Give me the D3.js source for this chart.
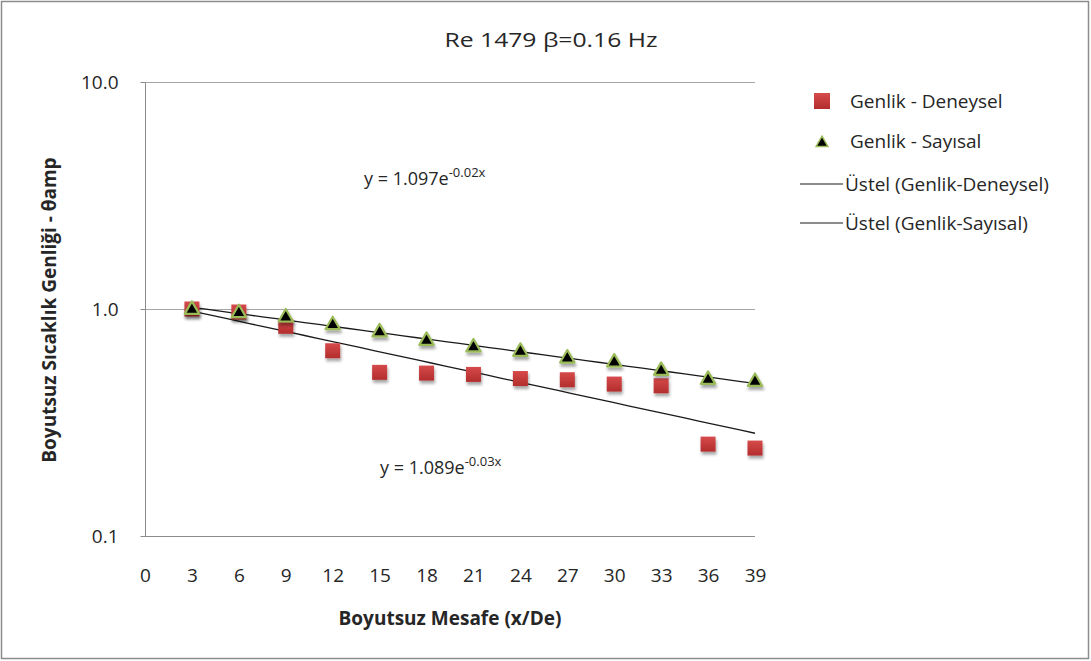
<!DOCTYPE html>
<html>
<head>
<meta charset="utf-8">
<script src="https://cdn.jsdelivr.net/npm/d3@7"></script>
<style>
  body { margin: 0; background: #fff; }
  text { font-family: "Open Sans", "Noto Sans", sans-serif; fill: #262626; }
</style>
</head>
<body>
<svg id="chart" width="1091" height="661"></svg>
<script>
// data
var distances = [3, 6, 9, 12, 15, 18, 21, 24, 27, 30, 33, 36, 39];
var deneysel = [1.00, 0.970, 0.839, 0.655, 0.526, 0.522, 0.515, 0.494, 0.488, 0.467, 0.459, 0.254, 0.244];
var sayisal = [0.993, 0.960, 0.919, 0.850, 0.790, 0.725, 0.678, 0.649, 0.606, 0.582, 0.535, 0.488, 0.478];
var xTicks = [0, 3, 6, 9, 12, 15, 18, 21, 24, 27, 30, 33, 36, 39];
var yTicks = [0.1, 1, 10];
var legendLabels = ['Genlik - Deneysel', 'Genlik - Sayısal', 'Üstel (Genlik-Deneysel)', 'Üstel (Genlik-Sayısal)'];
var eqSayisal = ['y = 1.097e', '-0.02x'];
var eqDeneysel = ['y = 1.089e', '-0.03x'];

var svg = d3.select('#chart');
var margin = {left: 145, top: 82, right: 336, bottom: 125};
var width = 1091 - margin.left - margin.right;
var height = 661 - margin.top - margin.bottom;

svg.append('rect')
  .attr('x', 1.5).attr('y', 1.5).attr('width', 1087).attr('height', 657)
  .attr('fill', '#fff').attr('stroke', '#8c8c8c').attr('stroke-width', 1.5);

var defs = svg.append('defs');
var shadow = defs.append('filter').attr('id', 'shadow')
  .attr('x', '-50%').attr('y', '-50%').attr('width', '200%').attr('height', '200%');
shadow.append('feDropShadow')
  .attr('dx', 1).attr('dy', 3).attr('stdDeviation', 1.6)
  .attr('flood-color', '#000').attr('flood-opacity', 0.35);
var grad = defs.append('linearGradient').attr('id', 'redgrad')
  .attr('x1', 0).attr('y1', 0).attr('x2', 0).attr('y2', 1);
grad.append('stop').attr('offset', '0%').attr('stop-color', '#d64a4a');
grad.append('stop').attr('offset', '100%').attr('stop-color', '#b32d2d');

var xScale = d3.scaleLinear().domain([0, 39]).range([0, width]);
var yScale = d3.scaleLog().domain([0.1, 10]).range([height, 0]);

var g = svg.append('g')
  .attr('transform', 'translate(' + margin.left + ',' + margin.top + ')');

// gridlines
g.selectAll('.grid').data([1, 10]).enter().append('line')
  .attr('class', 'grid')
  .attr('x1', 0).attr('x2', width)
  .attr('y1', function(d) { return yScale(d) + 0.5; })
  .attr('y2', function(d) { return yScale(d) + 0.5; })
  .attr('stroke', '#a6a6a6').attr('stroke-width', 1);

// axes
var yAxis = d3.axisLeft(yScale).tickValues(yTicks).tickSize(5).tickPadding(22)
  .tickFormat(d3.format('.1f'));
var yAxisGroup = g.append('g').attr('class', 'axis axis--y')
  .attr('transform', 'translate(0.5,0)')
  .call(yAxis);
var xAxis = d3.axisBottom(xScale).tickValues(xTicks).tickSize(0).tickPadding(32)
  .tickFormat(d3.format('d'));
var xAxisGroup = g.append('g').attr('class', 'axis axis--x')
  .attr('transform', 'translate(0,' + (height + 0.5) + ')')
  .call(xAxis);
svg.selectAll('.axis .domain').attr('stroke', '#8c8c8c');
svg.selectAll('.axis line').attr('stroke', '#8c8c8c');
svg.selectAll('.axis text')
  .style('font-family', '"Open Sans", sans-serif')
  .style('font-size', '19px').attr('fill', '#404040');
xAxisGroup.select('.domain').attr('d', 'M0,0H' + width);
yAxisGroup.select('.domain').attr('d', 'M0,0V' + height);

// exponential trendlines (least squares on ln y, like Excel)
function expFit(xs, ys) {
  var n = xs.length;
  var mx = d3.mean(xs);
  var ly = ys.map(function(v) { return Math.log(v); });
  var my = d3.mean(ly);
  var num = 0, den = 0;
  for (var i = 0; i < n; i++) {
    num += (xs[i] - mx) * (ly[i] - my);
    den += (xs[i] - mx) * (xs[i] - mx);
  }
  var b = num / den;
  return {a: Math.exp(my - b * mx), b: b};
}
function trendPoints(fit) {
  var lo = d3.min(distances), hi = d3.max(distances);
  var pts = [];
  for (var i = 0; i <= 40; i++) {
    var x = lo + (hi - lo) * i / 40;
    pts.push([x, fit.a * Math.exp(fit.b * x)]);
  }
  return pts;
}
var line = d3.line()
  .x(function(d) { return xScale(d[0]); })
  .y(function(d) { return yScale(d[1]); });

[expFit(distances, deneysel), expFit(distances, sayisal)].forEach(function(fit) {
  g.append('path')
    .attr('d', line(trendPoints(fit)))
    .attr('fill', 'none').attr('stroke', '#1a1a1a').attr('stroke-width', 1.3);
});

// markers
var redData = distances.map(function(x, i) { return {x: x, y: deneysel[i]}; });
var greenData = distances.map(function(x, i) { return {x: x, y: sayisal[i]}; });

g.selectAll('.sq').data(redData).enter().append('rect')
  .attr('class', 'sq')
  .attr('x', function(d) { return xScale(d.x) - 7.5; })
  .attr('y', function(d) { return yScale(d.y) - 7.5; })
  .attr('width', 15).attr('height', 15)
  .attr('fill', 'url(#redgrad)')
  .attr('filter', 'url(#shadow)');

var tri = d3.symbol().type(d3.symbolTriangle).size(90);
g.selectAll('.tri').data(greenData).enter().append('path')
  .attr('class', 'tri')
  .attr('d', tri)
  .attr('transform', function(d) {
    return 'translate(' + xScale(d.x) + ',' + yScale(d.y) + ')';
  })
  .attr('fill', '#000').attr('stroke', '#9bbb59').attr('stroke-width', 2.2)
  .attr('stroke-linejoin', 'round')
  .attr('filter', 'url(#shadow)');

// equations
function equation(parts, x, y) {
  var t = svg.append('text').attr('x', x).attr('y', y).style('font-size', '18px');
  t.append('tspan').text(parts[0]);
  t.append('tspan').attr('dy', -8).style('font-size', '13px').text(parts[1]);
}
equation(eqSayisal, 364, 185);
equation(eqDeneysel, 380, 474);

// title
svg.append('text')
  .attr('x', 551).attr('y', 47)
  .attr('text-anchor', 'middle')
  .style('font-size', '20px')
  .attr('textLength', 213).attr('lengthAdjust', 'spacingAndGlyphs')
  .text('Re 1479  β=0.16 Hz');

// axis titles
svg.append('text')
  .attr('x', margin.left + xScale(19.5)).attr('y', 625)
  .attr('text-anchor', 'middle')
  .style('font-size', '19px').style('font-weight', 'bold')
  .text('Boyutsuz Mesafe (x/De)');
svg.append('text')
  .attr('transform', 'translate(56,310) rotate(-90)')
  .attr('text-anchor', 'middle')
  .style('font-size', '19px').style('font-weight', 'bold')
  .text('Boyutsuz Sıcaklık Genliği - θamp');

// legend
var legend = svg.append('g').attr('transform', 'translate(800,0)');
var legendY = [101, 141, 184, 223];
legend.append('rect').attr('x', 14).attr('y', legendY[0] - 8)
  .attr('width', 16).attr('height', 16).attr('fill', 'url(#redgrad)');
legend.append('path').attr('d', d3.symbol().type(d3.symbolTriangle).size(60))
  .attr('transform', 'translate(22,' + (legendY[1] + 2) + ')')
  .attr('fill', '#000').attr('stroke', '#9bbb59').attr('stroke-width', 1.5);
[2, 3].forEach(function(i) {
  legend.append('line').attr('x1', 0).attr('x2', 43)
    .attr('y1', legendY[i]).attr('y2', legendY[i])
    .attr('stroke', '#1a1a1a').attr('stroke-width', 1.2);
});
legend.selectAll('.leg').data(legendLabels).enter().append('text')
  .attr('class', 'leg')
  .attr('x', function(d, i) { return i < 2 ? 50 : 45; })
  .attr('y', function(d, i) { return legendY[i]; })
  .attr('dy', '0.35em')
  .style('font-size', '19px')
  .text(function(d) { return d; });
</script>
</body>
</html>
